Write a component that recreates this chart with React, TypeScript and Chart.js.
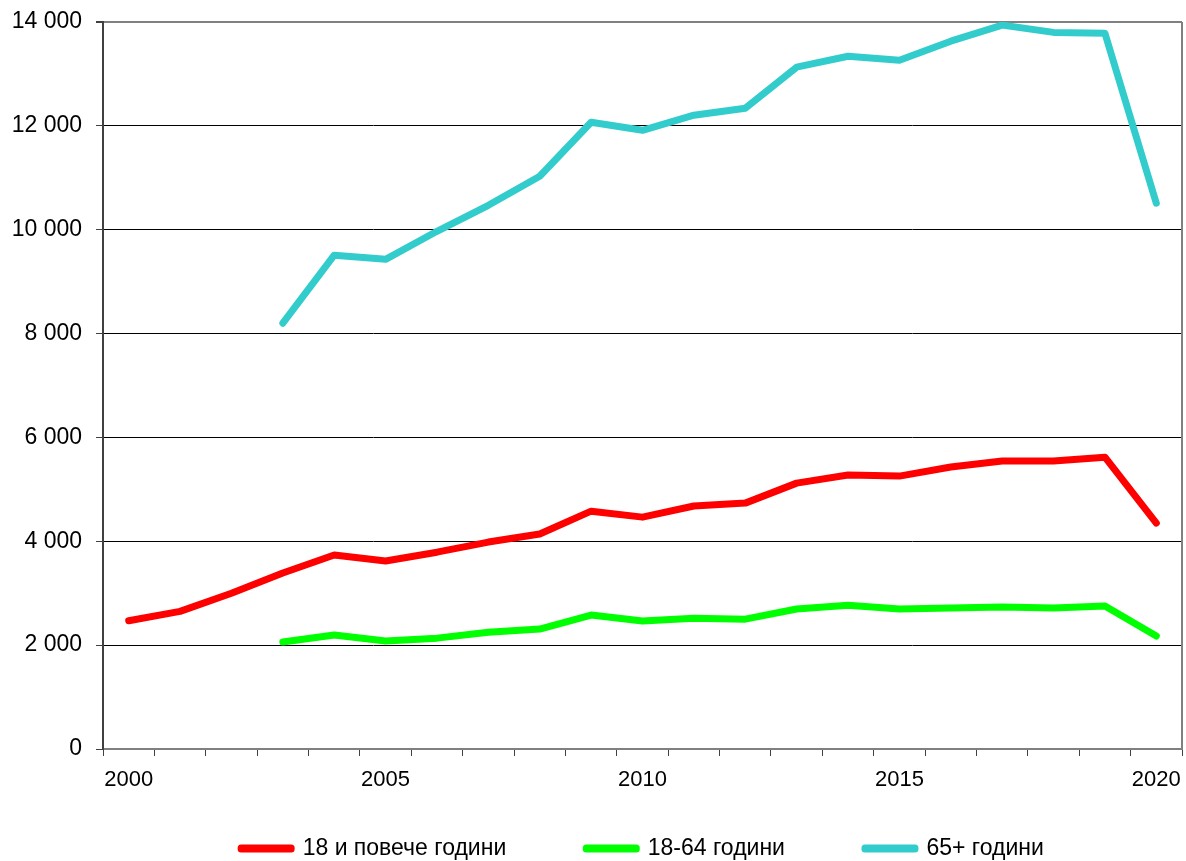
import React, { useEffect, useRef } from "react";
import { Chart, registerables } from "chart.js";

Chart.register(...registerables);

const years: string[] = [
  "2000", "2001", "2002", "2003", "2004", "2005", "2006", "2007", "2008", "2009", "2010",
  "2011", "2012", "2013", "2014", "2015", "2016", "2017", "2018", "2019", "2020",
];

const adults18plus: (number | null)[] = [
  2470, 2650, 3000, 3390, 3735, 3620, 3790, 3985, 4140, 4580, 4465,
  4680, 4735, 5120, 5275, 5255, 5430, 5545, 5545, 5620, 4350,
];

const adults18to64: (number | null)[] = [
  null, null, null, 2060, 2195, 2080, 2135, 2250, 2310, 2580, 2465,
  2520, 2500, 2695, 2770, 2695, 2715, 2735, 2715, 2755, 2175,
];

const seniors65plus: (number | null)[] = [
  null, null, null, 8200, 9510, 9430, 9970, 10470, 11030, 12070, 11915,
  12205, 12340, 13130, 13340, 13265, 13630, 13940, 13800, 13785, 10510,
];

const seriesLabels: string[] = ["18 и повече години", "18-64 години", "65+ години"];
const seriesColors: string[] = ["#FF0000", "#00FF00", "#33CCCC"];
const shownYearLabels: string[] = ["2000", "2005", "2010", "2015", "2020"];

const FONT = "Arial, 'Liberation Sans', sans-serif";

function fmt(v: number): string {
  return String(v).replace(/\B(?=(\d{3})+(?!\d))/g, " ");
}

export default function App() {
  const ref = useRef<HTMLCanvasElement | null>(null);

  useEffect(() => {
    document.body.style.margin = "0";
    const canvas = ref.current;
    if (!canvas) return;

    const frame = {
      id: "frameBorder",
      afterLayout(chart: any) {
        // let the x tick labels extend below the (thin) axis box without clipping
        const x = chart.scales.x;
        if (x) x.bottom = chart.height;
      },
      afterDatasetsDraw(chart: any) {
        const { ctx, chartArea } = chart;
        ctx.save();
        ctx.strokeStyle = "#808080";
        ctx.lineWidth = 2;
        ctx.beginPath();
        ctx.moveTo(chartArea.right, chartArea.top);
        ctx.lineTo(chartArea.right, chartArea.bottom);
        ctx.stroke();
        ctx.restore();
      },
    };

    const data = [adults18plus, adults18to64, seniors65plus];
    const chart = new Chart(canvas, {
      type: "line",
      data: {
        labels: years,
        datasets: data.map((d, i) => ({
          label: seriesLabels[i],
          data: d,
          borderColor: seriesColors[i],
          backgroundColor: seriesColors[i],
          borderWidth: 7,
          pointRadius: 0,
          pointHoverRadius: 0,
          tension: 0,
          fill: false,
          borderCapStyle: "round",
          borderJoinStyle: "round",
        })),
      },
      options: {
        responsive: false,
        animation: false,
        layout: { padding: { top: 22, left: 0, right: 4, bottom: -9 } },
        plugins: {
          tooltip: { enabled: false },
          legend: {
            position: "bottom",
            fullSize: false,
            labels: {
              boxWidth: 50,
              boxHeight: 1,
              padding: 80,
              color: "#000",
              font: { family: FONT, size: 23 },
            },
          },
        },
        scales: {
          x: {
            type: "category",
            offset: true,
            afterFit: (s: any) => {
              s.height = 8;
            },
            grid: {
              offset: true,
              drawOnChartArea: false,
              drawTicks: true,
              tickLength: 7,
              tickColor: "#404040",
            },
            border: { color: "#808080", width: 2 },
            ticks: {
              autoSkip: false,
              maxRotation: 0,
              minRotation: 0,
              padding: 4,
              color: "#000",
              font: { family: FONT, size: 22, lineHeight: 1.8 },
              callback: function (this: any, _v: any, idx: number) {
                const l = years[idx];
                return shownYearLabels.includes(l) ? l : "";
              },
            },
          },
          y: {
            min: 0,
            max: 14000,
            afterFit: (s: any) => {
              s.width = 103;
            },
            grid: {
              color: (c: any) => (c.tick && c.tick.value === 14000 ? "#808080" : "#000000"),
              lineWidth: (c: any) => (c.tick && c.tick.value === 14000 ? 2 : 1),
              tickLength: 7,
              tickColor: "#404040",
            },
            border: { color: "#404040", width: 2 },
            ticks: {
              stepSize: 2000,
              padding: 14,
              color: "#000",
              font: { family: FONT, size: 23, lineHeight: 0.6 },
              callback: (v: any) => fmt(Number(v)),
            },
          },
        },
      },
      plugins: [frame],
    } as any);

    return () => chart.destroy();
  }, []);

  return <canvas ref={ref} width={1186} height={861} style={{ display: "block" }} />;
}
